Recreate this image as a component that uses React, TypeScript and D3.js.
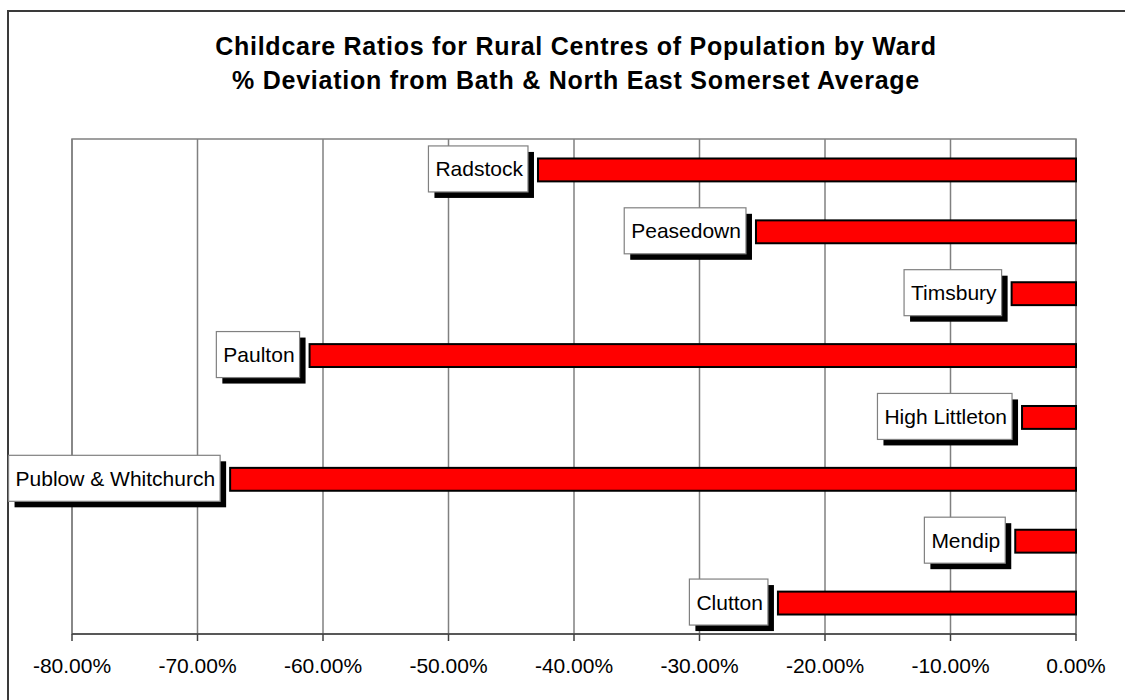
import React from "react";
import * as d3 from "d3";

const categories = ["Radstock", "Peasedown", "Timsbury", "Paulton", "High Littleton", "Publow & Whitchurch", "Mendip", "Clutton"];
const values = [-0.4287, -0.255, -0.0513, -0.6107, -0.043, -0.674, -0.0484, -0.2375];
const ticks = [-0.8, -0.7, -0.6, -0.5, -0.4, -0.3, -0.2, -0.1, 0];
const titleLines = [
  "Childcare Ratios for Rural Centres of Population by Ward",
  "% Deviation from Bath & North East Somerset Average",
];

const W = 1125;
const H = 700;
const plot = { left: 72, right: 1076, top: 139, bottom: 634 };
const FONT = "Liberation Sans, Arial, sans-serif";
const labelFont = 21;

let ctx: CanvasRenderingContext2D | null = null;
function measure(text: string, size: number) {
  if (!ctx) {
    const c = document.createElement("canvas");
    ctx = c.getContext("2d");
  }
  if (!ctx) return text.length * size * 0.5;
  ctx.font = `${size}px "Liberation Sans", Arial, sans-serif`;
  return ctx.measureText(text).width;
}

export default function App() {
  const x = d3.scaleLinear().domain([-0.8, 0]).range([plot.left, plot.right]);
  const y = d3.scaleBand().domain(categories).range([plot.top, plot.bottom]).paddingInner(0.63).paddingOuter(0.315);
  const fmt0 = d3.format(".2%");
  const fmt = (v: number) => fmt0(v).replace("\u2212", "-");
  const barH = y.bandwidth();

  return (
    <svg width={W} height={H} style={{ position: "absolute", left: 0, top: 0, background: "#fff" }} fontFamily={FONT}>
      <rect x={0} y={0} width={W} height={H} fill="#fff" />
      <rect x={8} y={11} width={W + 20} height={H + 20} fill="#fff" stroke="#3a3a3a" strokeWidth={2} />
      {titleLines.map((t, i) => (
        <text key={i} x={576} y={55 + i * 34} textAnchor="middle" fontWeight="bold" fontSize={25} letterSpacing={0.75} fill="#000">
          {t}
        </text>
      ))}
      {/* plot area border */}
      <rect x={plot.left} y={plot.top} width={plot.right - plot.left} height={plot.bottom - plot.top} fill="#fff" stroke="#808080" strokeWidth={1.5} />
      {ticks.map((t) => (
        <line key={"g" + t} x1={x(t)} x2={x(t)} y1={plot.top} y2={plot.bottom} stroke="#808080" strokeWidth={1.5} />
      ))}
      {/* x axis */}
      <line x1={plot.left} x2={plot.right} y1={plot.bottom} y2={plot.bottom} stroke="#404040" strokeWidth={1.5} />
      {ticks.map((t) => (
        <g key={"t" + t}>
          <line x1={x(t)} x2={x(t)} y1={plot.bottom} y2={plot.bottom + 7} stroke="#404040" strokeWidth={1.5} />
          <text x={x(t)} y={673} textAnchor="middle" fontSize={21} fill="#000">
            {fmt(t)}
          </text>
        </g>
      ))}
      {/* bars */}
      {categories.map((c, i) => {
        const v = values[i];
        const y0 = y(c) as number;
        return (
          <rect key={"b" + c} x={x(v)} y={y0} width={x(0) - x(v)} height={barH} fill="#ff0000" stroke="#000" strokeWidth={2} />
        );
      })}
      {/* labels */}
      {categories.map((c, i) => {
        const v = values[i];
        const cy = (y(c) as number) + barH / 2;
        const tw = measure(c, labelFont);
        const bw = tw + 12;
        const bh = 46;
        let right = x(v) - 10;
        let left = right - bw;
        if (left < 8) {
          left = 8;
          right = left + bw;
        }
        const top = cy - bh / 2 - 1;
        return (
          <g key={"l" + c}>
            <rect x={left + 6} y={top + 6} width={bw} height={bh} fill="#000" />
            <rect x={left} y={top} width={bw} height={bh} fill="#fff" stroke="#808080" strokeWidth={1.2} />
            <text x={left + 7} y={top + bh / 2 + 7.5} fontSize={labelFont} fill="#000">
              {c}
            </text>
          </g>
        );
      })}
    </svg>
  );
}
